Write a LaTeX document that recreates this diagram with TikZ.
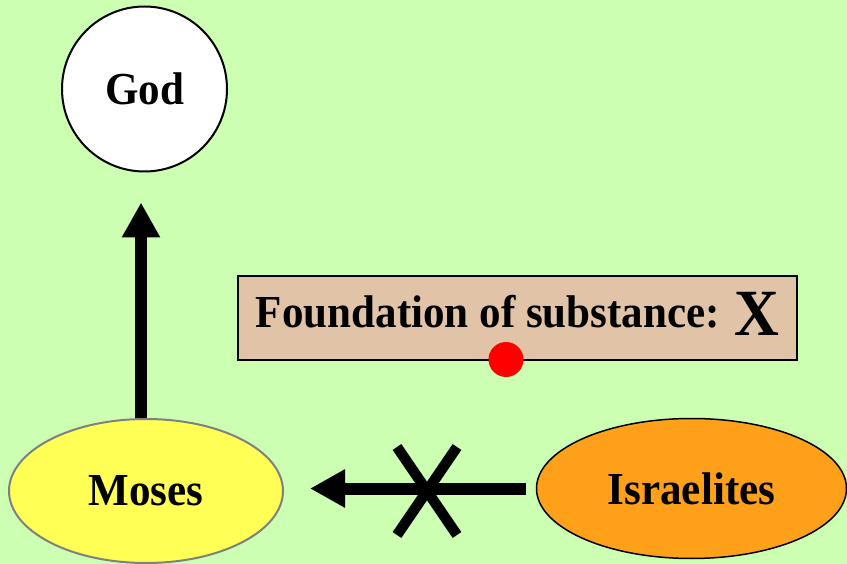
\documentclass[tikz,border=0pt]{standalone}
\usepackage{fontspec}
\setmainfont{Liberation Serif}[FakeStretch=0.94]
\usetikzlibrary{shapes.geometric,arrows.meta}
\definecolor{bggreen}{RGB}{204,255,178}
\definecolor{boxtan}{RGB}{225,196,168}
\definecolor{mosesyellow}{RGB}{255,255,85}
\definecolor{israelorange}{RGB}{255,160,26}
\begin{document}
\begin{tikzpicture}[x=1pt,y=-1pt,
    lbl/.style={font=\fontsize{45.8}{50}\selectfont\bfseries},
    bigarrow/.style={line width=12pt,-{Triangle[length=35pt,width=36pt]}},
    crossline/.style={line width=10.5pt}]
    \fill[bggreen] (0,0) rectangle (847,564);
    \useasboundingbox (0,0) rectangle (847,564);
    % the persons
    \node[circle,draw,line width=2pt,fill=white,minimum size=165pt,inner sep=0,lbl] (god) at (144.5,89) {God};
    \node[ellipse,draw=gray,line width=2pt,fill=mosesyellow,minimum width=274pt,minimum height=144pt,inner sep=0,lbl] (moses) at (146,491) {Moses};
    \node[ellipse,draw,line width=1.5pt,fill=israelorange,minimum width=310pt,minimum height=140pt,inner sep=0,lbl] (israelites) at (691.5,488.5) {Israelites};
    % foundation box and its red dot
    \node[draw,line width=2pt,fill=boxtan,minimum width=559pt,minimum height=84pt,inner sep=0,text height=28pt,text depth=8pt,lbl] (foundation) at (517.5,318) {Foundation of substance: \raisebox{-8pt}{\fontsize{66}{66}\selectfont X}};
    \node[circle,fill=red,minimum size=35pt,inner sep=0] (dot) at (506,359.5) {};
    % arrows
    \draw[bigarrow] ([xshift=-5pt]moses.north) -- ([xshift=-3.5pt,yshift=-30pt]god.south);
    \draw[bigarrow,shorten <=9.5pt,shorten >=26pt] (israelites.west) -- (israelites.west -| moses.east);
    \coordinate (cross) at (427,491);
    \draw[crossline] ([shift={(-30,-44)}]cross) -- ([shift={(30,44)}]cross);
    \draw[crossline] ([shift={(30,-44)}]cross) -- ([shift={(-30,44)}]cross);
\end{tikzpicture}
\end{document}
